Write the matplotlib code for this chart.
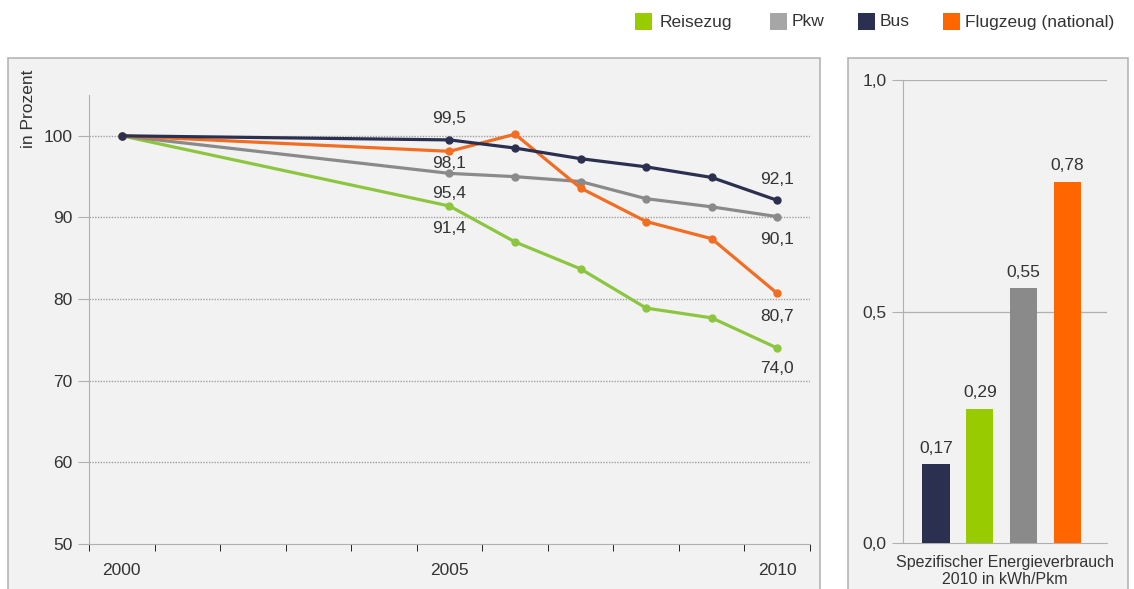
import matplotlib
matplotlib.use("Agg")
import matplotlib.pyplot as plt
from matplotlib.patches import Rectangle

plt.rcParams["font.family"] = ["Liberation Sans", "DejaVu Sans"]

years = [2000, 2005, 2006, 2007, 2008, 2009, 2010]
reisezug = [100, 91.4, 87.0, 83.7, 78.9, 77.7, 74.0]
pkw = [100, 95.4, 95.0, 94.4, 92.3, 91.3, 90.1]
bus = [100, 99.5, 98.5, 97.2, 96.2, 94.9, 92.1]
flugzeug = [100, 98.1, 100.2, 93.6, 89.5, 87.4, 80.7]

bar_labels = ["Bus", "Reisezug", "Pkw", "Flugzeug (national)"]
bar_values = [0.17, 0.29, 0.55, 0.78]

legend_names = ["Reisezug", "Pkw", "Bus", "Flugzeug (national)"]

C_GREEN = "#8cc63f"
C_GREEN_BAR = "#99cc00"
C_GRAY = "#8a8a8a"
C_NAVY = "#2b3050"
C_ORANGE = "#f26d21"
C_ORANGE_BAR = "#ff6600"
TXT = "#333333"
FS = 12.5

W, H = 1134, 589
fig = plt.figure(figsize=(W / 100, H / 100), dpi=100)
fig.patch.set_facecolor("white")

def fx(px):
    return px / W

def fy(py):
    return 1 - py / H

# panel backgrounds
for x0, x1 in [(8, 820), (848, 1128)]:
    fig.patches.append(Rectangle((fx(x0), fy(600)), fx(x1) - fx(x0), fy(58) - fy(600),
                                 transform=fig.transFigure, facecolor="#f2f2f2",
                                 edgecolor="#b5b5b5", linewidth=1.2, zorder=-10))

# ---------- line chart ----------
ax = fig.add_axes([fx(89), fy(544), fx(810) - fx(89), fy(95) - fy(544)])
ax.set_facecolor("none")
ax.set_zorder(2)
ax.set_xlim(1999.5, 2010.5)
ax.set_ylim(50, 105)
for v in [60, 70, 80, 90, 100]:
    ax.axhline(v, color="#a0a0a0", linestyle=(0, (1, 1)), linewidth=1.0, zorder=1)

series = [(reisezug, C_GREEN), (pkw, C_GRAY), (flugzeug, C_ORANGE), (bus, C_NAVY)]
for vals, col in series:
    ax.plot(years, vals, color=col, linewidth=2.3, marker="o", markersize=5, zorder=3)

for sp in ["top", "right"]:
    ax.spines[sp].set_visible(False)
ax.spines["left"].set_color("#b0b0b0")
ax.spines["bottom"].set_color("#b0b0b0")
ax.set_yticks([50, 60, 70, 80, 90, 100])
ax.set_yticklabels(["50", "60", "70", "80", "90", "100"])
ax.set_xticks([2000, 2005, 2010])
ax.set_xticks([y + 0.5 for y in range(1999, 2011)], minor=True)
ax.tick_params(axis="both", colors="#b0b0b0", labelcolor=TXT, labelsize=FS)
ax.tick_params(axis="y", length=8, direction="out", pad=4)
ax.tick_params(axis="x", which="major", length=0, pad=14)
ax.tick_params(axis="x", which="minor", length=5, direction="out")
ax.set_ylabel("in Prozent", fontsize=FS, color=TXT)
ax.yaxis.set_label_coords(-0.074, 1.056)
ax.yaxis.label.set_horizontalalignment("right")

def lab(x, y, s, dy):
    ax.annotate(s, (x, y), xytext=(0, dy), textcoords="offset points",
                ha="center", va="center", fontsize=FS, color=TXT, zorder=5)

lab(2005, bus[1], "99,5", 15.5)
lab(2005, flugzeug[1], "98,1", -8.6)
lab(2005, pkw[1], "95,4", -14.5)
lab(2005, reisezug[1], "91,4", -16)
lab(2010, bus[-1], "92,1", 15)
lab(2010, pkw[-1], "90,1", -16.5)
lab(2010, flugzeug[-1], "80,7", -17)
lab(2010, reisezug[-1], "74,0", -14.5)

# ---------- bar chart ----------
bx = fig.add_axes([fx(903), fy(543), fx(1107) - fx(903), fy(80) - fy(543)])
bx.set_facecolor("none")
bx.set_zorder(2)
bx.set_ylim(0, 1.0)
bx.set_xlim(-0.75, 3.9)
bar_colors = [C_NAVY, C_GREEN_BAR, C_GRAY, C_ORANGE_BAR]
xs = list(range(len(bar_values)))
bars = bx.bar(xs, bar_values, width=0.62, color=bar_colors, zorder=3)
for v in [0.5, 1.0]:
    bx.axhline(v, color="#b0b0b0", linewidth=0.9, zorder=1)
for x, v in zip(xs, bar_values):
    bx.annotate(f"{v:.2f}".replace(".", ","), (x, v), xytext=(0, 11.5),
                textcoords="offset points", ha="center", va="center",
                fontsize=FS, color=TXT)
for sp in ["top", "right"]:
    bx.spines[sp].set_visible(False)
bx.spines["left"].set_color("#b0b0b0")
bx.spines["bottom"].set_color("#b0b0b0")
bx.set_yticks([0, 0.5, 1.0])
bx.set_yticklabels(["0,0", "0,5", "1,0"])
bx.set_xticks([])
bx.tick_params(axis="y", colors="#b0b0b0", labelcolor=TXT, labelsize=FS, length=8, pad=4)
bx.set_xlabel("Spezifischer Energieverbrauch\n2010 in kWh/Pkm", fontsize=11.5,
              color=TXT, labelpad=9, linespacing=1.1)

# ---------- legend ----------
leg_sq = [635, 770, 858, 943]
leg_tx = [660, 792, 880, 965]
leg_colors = [C_GREEN_BAR, "#a6a6a6", C_NAVY, C_ORANGE_BAR]
for x, tx, c, name in zip(leg_sq, leg_tx, leg_colors, legend_names):
    fig.patches.append(Rectangle((fx(x), fy(30)), fx(17), fy(13) - fy(30),
                                 transform=fig.transFigure, facecolor=c,
                                 edgecolor="none"))
    fig.text(fx(tx), fy(22), name, ha="left", va="center", fontsize=12.5, color=TXT)

fig.savefig("out.png", dpi=100)
